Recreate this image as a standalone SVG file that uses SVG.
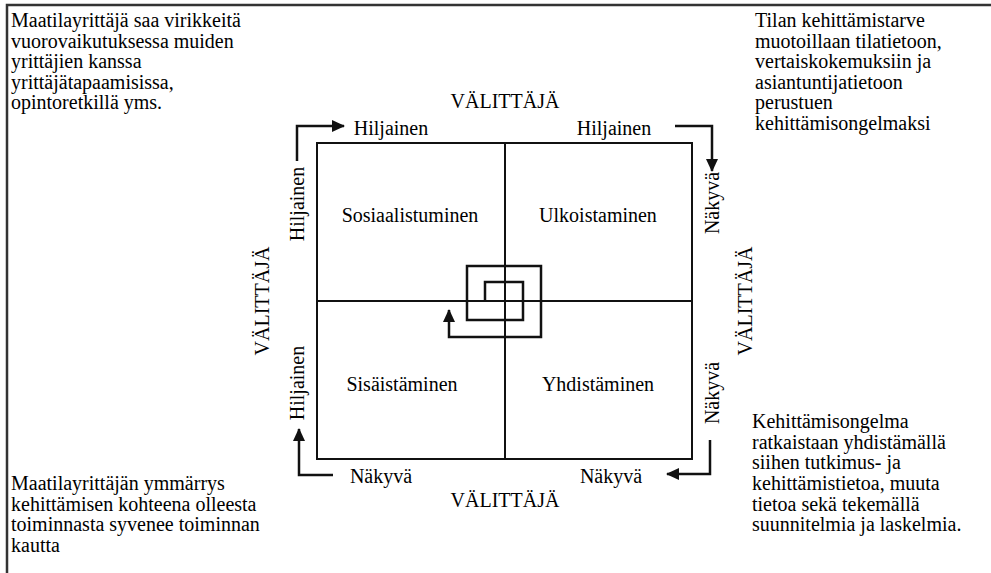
<svg xmlns="http://www.w3.org/2000/svg" width="991" height="573" viewBox="0 0 991 573">
  <defs>
    <marker id="head" markerUnits="userSpaceOnUse" markerWidth="13" markerHeight="12" refX="12" refY="6" orient="auto">
      <path d="M0,0 L13,6 L0,12 Z" fill="#111"/>
    </marker>
  </defs>

  <!-- page frame: left and top rules -->
  <path d="M7,573 V5 H991" fill="none" stroke="#333" stroke-width="2.5"/>

  <!-- four-field square -->
  <g id="square" fill="none" stroke="#111" stroke-width="2">
    <rect x="317" y="143" width="375" height="316"/>
    <line x1="505" y1="143" x2="505" y2="459"/>
    <line x1="317" y1="301" x2="692" y2="301"/>
  </g>

  <g id="quadrants" text-anchor="middle">
    <g id="sosiaalistuminen"><text font-family="Liberation Serif" font-size="20" x="410" y="222">Sosiaalistuminen</text></g>
    <g id="ulkoistaminen"><text font-family="Liberation Serif" font-size="20" x="598" y="222">Ulkoistaminen</text></g>
    <g id="sisaistaminen"><text font-family="Liberation Serif" font-size="20" x="402" y="391">Sisäistäminen</text></g>
    <g id="yhdistaminen"><text font-family="Liberation Serif" font-size="20" x="598" y="391">Yhdistäminen</text></g>
  </g>

  <!-- connectors: corner arrows and the central spiral -->
  <g id="connectors" fill="none" stroke="#111" stroke-width="2.5" marker-end="url(#head)">
    <path d="M297,161 V126 H344"/>
    <path d="M675,126 H712 V171"/>
    <path d="M710,440 V474 H667"/>
    <path d="M333,475 H299 V429"/>
    <path d="M485,301 V282 H523 V320 H467 V266 H541 V337 H449 V310"/>
  </g>

  <!-- side labels -->
  <g id="labels" text-anchor="middle">
    <text font-family="Liberation Serif" font-size="20" x="505" y="108">VÄLITTÄJÄ</text>
    <text font-family="Liberation Serif" font-size="20" x="505" y="507">VÄLITTÄJÄ</text>
    <text font-family="Liberation Serif" font-size="20" transform="translate(269,301) rotate(-90)">VÄLITTÄJÄ</text>
    <text font-family="Liberation Serif" font-size="20" transform="translate(752,301) rotate(-90)">VÄLITTÄJÄ</text>

    <text font-family="Liberation Serif" font-size="20" x="391" y="135">Hiljainen</text>
    <text font-family="Liberation Serif" font-size="20" x="614" y="135">Hiljainen</text>
    <text font-family="Liberation Serif" font-size="20" x="381" y="483">Näkyvä</text>
    <text font-family="Liberation Serif" font-size="20" x="611" y="483">Näkyvä</text>

    <text font-family="Liberation Serif" font-size="20" transform="translate(304,204) rotate(-90)">Hiljainen</text>
    <text font-family="Liberation Serif" font-size="20" transform="translate(304,383) rotate(-90)">Hiljainen</text>
    <text font-family="Liberation Serif" font-size="20" transform="translate(719,203) rotate(-90)">Näkyvä</text>
    <text font-family="Liberation Serif" font-size="20" transform="translate(719,393) rotate(-90)">Näkyvä</text>
  </g>

  <!-- corner descriptions -->
  <g id="note-top-left">
    <text font-family="Liberation Serif" font-size="20" x="11" y="27">Maatilayrittäjä saa virikkeitä</text>
    <text font-family="Liberation Serif" font-size="20" x="11" y="48">vuorovaikutuksessa muiden</text>
    <text font-family="Liberation Serif" font-size="20" x="11" y="68">yrittäjien kanssa</text>
    <text font-family="Liberation Serif" font-size="20" x="11" y="89">yrittäjätapaamisissa,</text>
    <text font-family="Liberation Serif" font-size="20" x="11" y="109">opintoretkillä yms.</text>
  </g>
  <g id="note-top-right">
    <text font-family="Liberation Serif" font-size="20" x="755" y="27">Tilan kehittämistarve</text>
    <text font-family="Liberation Serif" font-size="20" x="755" y="48">muotoillaan tilatietoon,</text>
    <text font-family="Liberation Serif" font-size="20" x="755" y="68">vertaiskokemuksiin ja</text>
    <text font-family="Liberation Serif" font-size="20" x="755" y="89">asiantuntijatietoon</text>
    <text font-family="Liberation Serif" font-size="20" x="755" y="109">perustuen</text>
    <text font-family="Liberation Serif" font-size="20" x="755" y="130">kehittämisongelmaksi</text>
  </g>
  <g id="note-bottom-left">
    <text font-family="Liberation Serif" font-size="20" x="11" y="490">Maatilayrittäjän ymmärrys</text>
    <text font-family="Liberation Serif" font-size="20" x="11" y="511">kehittämisen kohteena olleesta</text>
    <text font-family="Liberation Serif" font-size="20" x="11" y="531">toiminnasta syvenee toiminnan</text>
    <text font-family="Liberation Serif" font-size="20" x="11" y="552">kautta</text>
  </g>
  <g id="note-bottom-right">
    <text font-family="Liberation Serif" font-size="20" x="752" y="428">Kehittämisongelma</text>
    <text font-family="Liberation Serif" font-size="20" x="752" y="449">ratkaistaan yhdistämällä</text>
    <text font-family="Liberation Serif" font-size="20" x="752" y="469">siihen tutkimus- ja</text>
    <text font-family="Liberation Serif" font-size="20" x="752" y="490">kehittämistietoa, muuta</text>
    <text font-family="Liberation Serif" font-size="20" x="752" y="511">tietoa sekä tekemällä</text>
    <text font-family="Liberation Serif" font-size="20" x="752" y="531">suunnitelmia ja laskelmia.</text>
  </g>
</svg>
